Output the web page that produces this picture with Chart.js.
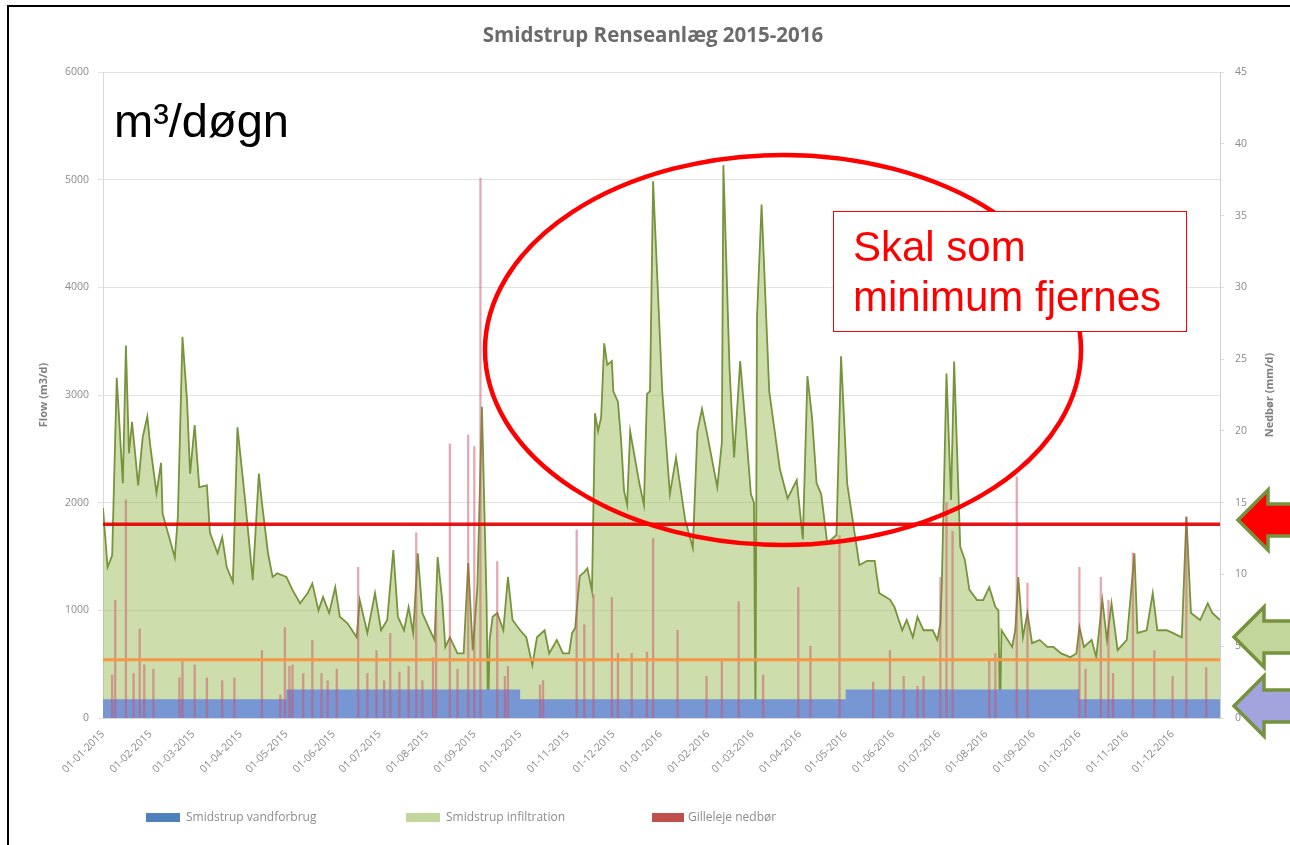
<!DOCTYPE html>
<html>
<head>
<meta charset="utf-8">
<script src="https://cdn.jsdelivr.net/npm/chart.js@4.4.1/dist/chart.umd.min.js"></script>
<style>
  html, body { margin: 0; padding: 0; background: #fff; }
  #wrap { position: relative; width: 1290px; height: 845px; overflow: hidden; background: #fff; }
  #c { position: absolute; left: 0; top: 0; }
  .abs { position: absolute; white-space: nowrap; }
  #frame { position: absolute; left: 7px; top: 5px; width: 1300px; height: 900px; border-top: 2px solid #000; border-left: 2px solid #000; }
  #title { left: 403px; top: 24px; width: 500px; text-align: center; font: bold 20.5px/20px "Open Sans", sans-serif; color: #6b6b6b; }
  .axt { font: bold 11px/11px "Open Sans", sans-serif; color: #7f7f7f; transform: translate(-50%, -50%) rotate(-90deg); }
  .lg { font: 12px/12px "Open Sans", sans-serif; color: #8c8c8c; }
  .lbox { position: absolute; height: 9px; }
  #unit { left: 114px; top: 98px; font: 47px/46px "Liberation Sans", Arial, sans-serif; color: #000; }
  #box { left: 833px; top: 211px; width: 352px; height: 119px; border: 1.5px solid #ff0000; background: #fff; }
  #box div { position: absolute; left: 19px; font: 42px/50px "Liberation Sans", Arial, sans-serif; color: #ff0000; }
  svg { position: absolute; left: 0; top: 0; }
</style>
</head>
<body>
<div id="wrap">
  <canvas id="c" width="1290" height="845"></canvas>
  <div id="frame"></div>
  <div id="title" class="abs">Smidstrup Renseanlæg 2015-2016</div>
  <div class="abs axt" style="left:42px; top:395px;">Flow (m3/d)</div>
  <div class="abs axt" style="left:1268px; top:395px;">Nedbør (mm/d)</div>

  <div class="lbox" style="left:146px; top:813px; width:34px; background:#4f81bd;"></div>
  <div class="abs lg" style="left:186px; top:811px;">Smidstrup vandforbrug</div>
  <div class="lbox" style="left:406px; top:813px; width:34px; background:#c3d69b;"></div>
  <div class="abs lg" style="left:446px; top:811px;">Smidstrup infiltration</div>
  <div class="lbox" style="left:652px; top:813px; width:32px; background:#c0504d;"></div>
  <div class="abs lg" style="left:688px; top:811px;">Gilleleje nedbør</div>

  <svg width="1290" height="845" viewBox="0 0 1290 845">
    <ellipse cx="783" cy="350" rx="298" ry="195" fill="none" stroke="#ff0000" stroke-width="4.5"/>
    <polygon points="1238,520 1268,490 1268,504 1296,504 1296,536 1268,536 1268,550" fill="#ff0000" stroke="#76923c" stroke-width="3.5" stroke-linejoin="miter"/>
    <polygon points="1234,637 1264,607 1264,621 1296,621 1296,653 1264,653 1264,667" fill="#c3d69b" stroke="#76923c" stroke-width="3.5"/>
    <polygon points="1234,706 1264,676 1264,690 1296,690 1296,722 1264,722 1264,736" fill="#a3a3de" stroke="#76923c" stroke-width="3.5"/>
  </svg>

  <div id="unit" class="abs">m³/døgn</div>
  <div id="box" class="abs">
    <div style="top:10px;">Skal som</div>
    <div style="top:60px;">minimum fjernes</div>
  </div>
</div>

<script>
// ---- Data ----
const monthStartDays = [0,31,59,90,120,151,181,212,243,273,304,334,365,396,425,456,486,517,547,578,609,639,670,700];
const monthLabels = ['01-01-2015','01-02-2015','01-03-2015','01-04-2015','01-05-2015','01-06-2015','01-07-2015','01-08-2015','01-09-2015','01-10-2015','01-11-2015','01-12-2015',
                     '01-01-2016','01-02-2016','01-03-2016','01-04-2016','01-05-2016','01-06-2016','01-07-2016','01-08-2016','01-09-2016','01-10-2016','01-11-2016','01-12-2016'];
const lastDay = 731;

// Smidstrup vandforbrug (m3/d), per month
const waterUse = [175,175,175,175,265,265,265,265,265,175,175,175,
                  175,175,175,175,265,265,265,265,265,175,175,175];

// Smidstrup infiltration / total flow (m3/d): day index since 01-01-2015 and value
const flowDays = [0,3,6,9,12,13,15,17,19,21,23,26,29,31,35,38,39,42,47,49,52,55,57,60,63,68,70,75,78,81,85,88,93,98,102,104,108,111,114,120,124,129,134,137,141,144,148,152,155,160,166,168,173,178,182,186,190,193,197,200,203,206,209,214,217,219,222,224,227,232,236,239,242,245,248,251,252,253,255,258,262,265,268,273,277,281,284,289,292,297,301,305,307,309,312,315,317,320,322,324,326,328,330,333,334,337,339,341,343,345,348,351,354,356,358,360,366,371,375,381,386,389,392,395,402,405,406,410,413,417,421,424,426,427,428,431,436,443,448,454,458,461,464,467,470,474,480,483,487,491,495,500,505,508,515,518,523,526,530,533,537,543,546,548,549,552,555,557,561,564,567,572,576,580,584,586,587,588,595,597,599,602,605,608,613,618,622,627,633,637,639,642,647,650,654,657,660,664,670,675,677,683,687,690,696,700,706,709,712,718,723,726,731];
const flowValues = [1950,1400,1510,3160,2420,2180,3460,2460,2750,2460,2160,2610,2800,2520,2090,2370,1900,1745,1490,1870,3540,2950,2270,2720,2145,2160,1720,1530,1680,1400,1265,2700,2025,1280,2270,2000,1530,1310,1345,1310,1190,1065,1160,1250,1000,1125,975,1215,940,880,750,1095,790,1160,815,910,1560,940,815,1030,790,1530,975,815,725,1495,1095,660,750,600,600,1440,630,1215,2890,1095,0,725,940,975,815,1310,910,815,750,490,750,815,600,725,600,600,790,835,1320,1355,1390,1180,2830,2665,2795,3480,3280,3315,3035,2935,2590,2110,1980,2665,2420,2180,1980,3010,3035,4985,3035,2080,2420,1840,1580,2665,2870,2665,2145,2555,5135,3250,2420,3315,2630,2080,2000,0,3725,4770,3035,2310,2040,2210,1660,3175,2795,2180,2080,1625,1700,3360,2180,1800,1420,1460,1460,1160,1100,1030,815,910,750,940,815,815,725,880,1280,3200,2025,3310,1590,1470,1190,1095,1095,1215,1030,1000,0,815,660,815,1310,750,975,695,725,660,660,600,565,600,845,660,725,565,1095,725,1065,630,725,1530,790,815,1160,815,815,790,750,1870,975,910,1065,975,910];

// Gilleleje nedbør (mm/d)
const rainDays = [6,8,15,20,24,27,33,50,52,60,68,78,86,104,116,119,122,124,131,137,143,147,153,167,173,179,184,188,194,200,205,209,216,218,227,232,239,243,247,258,263,265,286,288,310,315,321,333,337,346,356,360,376,395,405,416,432,455,463,482,504,515,524,533,537,548,552,556,580,584,598,605,639,643,653,658,661,674,688,700,709,722];
const rainMm = [3.0,8.2,15.2,3.1,6.2,3.7,3.4,2.8,4.0,3.7,2.8,2.6,2.8,4.7,1.6,6.3,3.6,3.7,3.1,5.4,3.1,2.6,3.4,10.5,3.1,4.7,2.6,5.9,3.2,3.6,12.9,2.6,4.2,7.5,19.1,3.4,19.7,18.9,37.6,10.9,2.9,3.6,2.3,2.6,13.1,6.5,8.6,8.4,4.5,4.5,4.6,12.5,6.1,2.9,4.0,8.1,3.0,9.1,5.0,12.7,2.5,4.7,2.9,2.2,2.9,9.8,15.0,13.0,4.0,4.5,16.8,9.4,10.5,3.4,9.8,8.2,3.1,11.5,4.7,2.9,14.0,3.5];

// Reference levels drawn on the chart (m3/d)
const redLevel = 1800;
const orangeLevel = 540;

// ---- Build datasets ----
const flowData = flowDays.map((d, i) => ({ x: d, y: flowValues[i] }));
const waterData = [];
monthStartDays.forEach((d, i) => {
  const end = i + 1 < monthStartDays.length ? monthStartDays[i + 1] : lastDay;
  waterData.push({ x: d, y: waterUse[i] }, { x: end, y: waterUse[i] });
});
const rainData = rainDays.map((d, i) => ({ x: d, y: rainMm[i] }));

const tickColor = '#8a8a8a';
const tickFont = { family: 'Open Sans', size: 10.5 };

new Chart(document.getElementById('c'), {
  type: 'line',
  data: {
    datasets: [
      { label: 'red', data: [{x: 0, y: redLevel}, {x: lastDay, y: redLevel}], borderColor: 'rgba(228,0,0,0.92)', borderWidth: 3.5, pointRadius: 0, fill: false, yAxisID: 'y', order: 0 },
      { label: 'orange', data: [{x: 0, y: orangeLevel}, {x: lastDay, y: orangeLevel}], borderColor: '#f79646', borderWidth: 3, pointRadius: 0, fill: false, yAxisID: 'y', order: 0 },
      { type: 'bar', label: 'Gilleleje nedbør', data: rainData, backgroundColor: 'rgba(205,80,100,0.5)', barThickness: 1.6, yAxisID: 'y2', order: 1 },
      { label: 'Smidstrup vandforbrug', data: waterData, borderWidth: 0, borderColor: 'rgba(0,0,0,0)', backgroundColor: 'rgb(118,150,212)', fill: 'origin', pointRadius: 0, tension: 0, yAxisID: 'y', order: 2 },
      { label: 'Smidstrup infiltration', data: flowData, borderColor: '#77933c', borderWidth: 1.8, backgroundColor: 'rgba(155,187,89,0.5)', fill: 'origin', pointRadius: 0, tension: 0, yAxisID: 'y', order: 3 }
    ]
  },
  options: {
    responsive: false,
    animation: false,
    devicePixelRatio: 1,
    layout: { padding: { top: 72, left: 0, right: 0, bottom: 0 } },
    plugins: { legend: { display: false }, tooltip: { enabled: false }, title: { display: false } },
    scales: {
      x: {
        type: 'linear', min: 0, max: lastDay, offset: false,
        afterBuildTicks: s => { s.ticks = monthStartDays.map(v => ({ value: v })); },
        afterFit: s => { s.height = 127; },
        ticks: { autoSkip: false, minRotation: 45, maxRotation: 45, color: tickColor, font: tickFont, padding: 2,
                 callback: (v, i) => monthLabels[i] },
        grid: { display: false },
        border: { display: true, color: '#d9d9d9', width: 1 }
      },
      y: {
        position: 'left', min: 0, max: 6000,
        afterFit: s => { s.width = 103; },
        ticks: { stepSize: 1000, color: tickColor, font: tickFont, padding: 9, callback: v => String(v) },
        grid: { color: '#e2e2e2', lineWidth: 1, tickLength: 5 },
        border: { display: true, color: '#d9d9d9' }
      },
      y2: {
        position: 'right', min: 0, max: 45,
        afterFit: s => { s.width = 70; },
        ticks: { stepSize: 5, color: tickColor, font: tickFont, padding: 11, callback: v => String(v) },
        grid: { drawOnChartArea: false, color: '#d9d9d9', tickLength: 4 },
        border: { display: true, color: '#d0d0d0' }
      }
    }
  }
});
</script>
</body>
</html>
